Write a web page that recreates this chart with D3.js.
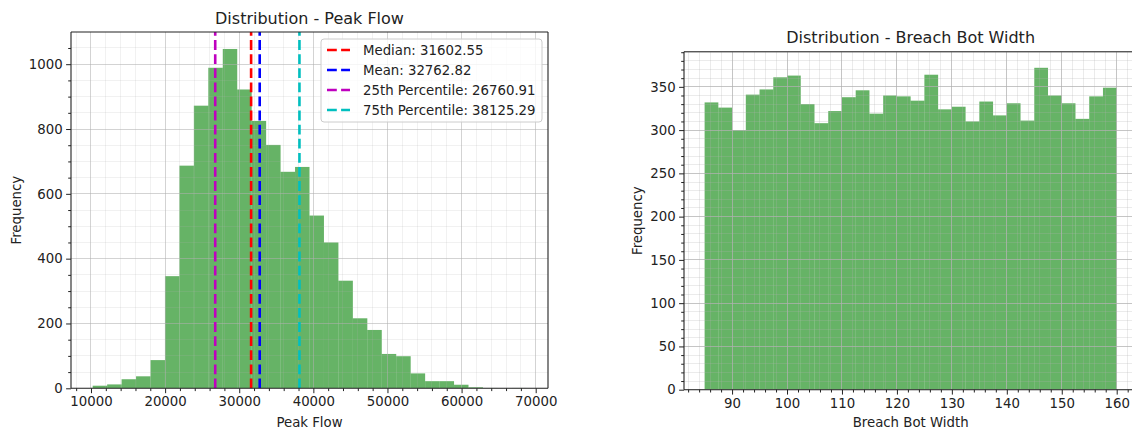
<!DOCTYPE html>
<html>
<head>
<meta charset="utf-8">
<script src="https://cdn.jsdelivr.net/npm/d3@7"></script>
<style>
  html, body { margin: 0; padding: 0; background: #fff; }
  svg { display: block; font-family: "DejaVu Sans", sans-serif; }
</style>
</head>
<body>
<svg id="fig" width="1132" height="431"></svg>
<script>
// Peak Flow histogram: 30 equal bins between the sample minimum and maximum
const peakFlowRange = [10228, 68734];
const peakFlowCounts = [8, 12, 28, 37, 87, 346, 687, 872, 989, 1047,
                        922, 825, 751, 668, 683, 533, 450, 332, 216, 180,
                        106, 99, 46, 22, 22, 11, 3, 1, 0, 1];
const peakFlowXTicks = [10000, 20000, 30000, 40000, 50000, 60000, 70000];
const peakFlowYTicks = [0, 200, 400, 600, 800, 1000];

// Summary statistics drawn as reference lines
const statNames = ["Median", "Mean", "25th Percentile", "75th Percentile"];
const statValues = [31602.55, 32762.82, 26760.91, 38125.29];
const statColors = ["#ff0000", "#0000ff", "#bf00bf", "#00bfbf"];

// Breach Bot Width histogram: 30 equal bins
const breachRange = [85, 160];
const breachCounts = [332, 326, 300, 341, 347, 361, 363, 330, 308, 322,
                      338, 346, 319, 340, 339, 334, 364, 324, 327, 310,
                      333, 317, 331, 311, 372, 340, 331, 313, 339, 349];
const breachXTicks = [90, 100, 110, 120, 130, 140, 150, 160];
const breachYTicks = [0, 50, 100, 150, 200, 250, 300, 350];

const svg = d3.select("#fig");
const FONT = 13.3;
const BAR = "#008000";

function bins(range, counts) {
  const w = (range[1] - range[0]) / counts.length;
  return counts.map((c, i) => ({ x0: range[0] + i * w, x1: range[0] + (i + 1) * w, n: c }));
}

function ticksBetween(lo, hi, step) {
  const out = [];
  for (let v = Math.ceil(lo / step) * step; v <= hi + 1e-9; v += step) out.push(+v.toFixed(6));
  return out;
}

function drawPanel(opt) {
  const g = svg.append("g");
  const { box, range, counts } = opt;
  const pad = 0.05 * (range[1] - range[0]);
  const x = d3.scaleLinear().domain([range[0] - pad, range[1] + pad]).range([box.x0, box.x1]);
  const y = d3.scaleLinear().domain([0, d3.max(counts) * 1.05]).range([box.y1, box.y0]);
  const [dx0, dx1] = x.domain();
  const [dy0, dy1] = y.domain();

  const clipId = "clip" + opt.id;
  svg.append("clipPath").attr("id", clipId).append("rect")
    .attr("x", box.x0).attr("y", box.y0)
    .attr("width", box.x1 - box.x0).attr("height", box.y1 - box.y0);

  const plot = g.append("g").attr("clip-path", `url(#${clipId})`);

  // bars
  plot.selectAll("rect.bar").data(bins(range, counts)).join("rect")
    .attr("class", "bar")
    .attr("x", d => x(d.x0))
    .attr("width", d => x(d.x1) - x(d.x0))
    .attr("y", d => y(d.n))
    .attr("height", d => y(0) - y(d.n))
    .attr("fill", BAR).attr("fill-opacity", 0.6);

  // grid: minor then major
  const xMinor = ticksBetween(dx0, dx1, opt.xMinor);
  const yMinor = ticksBetween(dy0, dy1, opt.yMinor);
  const xMajor = opt.xTicks.filter(v => v >= dx0 && v <= dx1);
  const yMajor = opt.yTicks;
  const grid = plot.append("g").attr("stroke", "#b0b0b0").attr("stroke-width", 1).attr("shape-rendering", "crispEdges");
  grid.selectAll("line.vmin").data(xMinor).join("line")
    .attr("x1", d => x(d)).attr("x2", d => x(d)).attr("y1", box.y0).attr("y2", box.y1)
    .attr("stroke-opacity", opt.minorAlpha);
  grid.selectAll("line.hmin").data(yMinor).join("line")
    .attr("y1", d => y(d)).attr("y2", d => y(d)).attr("x1", box.x0).attr("x2", box.x1)
    .attr("stroke-opacity", opt.minorAlpha);
  grid.selectAll("line.vmaj").data(xMajor).join("line")
    .attr("x1", d => x(d)).attr("x2", d => x(d)).attr("y1", box.y0).attr("y2", box.y1)
    .attr("stroke-opacity", opt.majorAlpha);
  grid.selectAll("line.hmaj").data(yMajor).join("line")
    .attr("y1", d => y(d)).attr("y2", d => y(d)).attr("x1", box.x0).attr("x2", box.x1)
    .attr("stroke-opacity", opt.majorAlpha);

  // statistic lines
  if (opt.stats) {
    plot.selectAll("line.stat").data(opt.stats).join("line")
      .attr("x1", d => x(d.v)).attr("x2", d => x(d.v))
      .attr("y1", box.y1).attr("y2", box.y0)
      .attr("stroke", d => d.c).attr("stroke-width", 2.6)
      .attr("stroke-dasharray", "9.8,4.3");
  }

  // axes via d3
  const xAxis = d3.axisBottom(x).tickValues(opt.xTicks).tickFormat(d3.format("d"))
    .tickSize(4.9).tickPadding(3.5);
  const xAxisMinor = d3.axisBottom(x).tickValues(xMinor.filter(v => !opt.xTicks.includes(v)))
    .tickSize(2.8).tickFormat("");
  const yAxis = d3.axisLeft(y).tickValues(opt.yTicks).tickFormat(d3.format("d"))
    .tickSize(4.9).tickPadding(3.5);
  const yAxisMinor = d3.axisLeft(y).tickValues(yMinor.filter(v => !opt.yTicks.includes(v)))
    .tickSize(2.8).tickFormat("");

  function style(sel) {
    sel.select(".domain").remove();
    sel.selectAll("line").attr("stroke", "#222").attr("stroke-width", 1);
    sel.selectAll("text").attr("fill", "#222").style("font-size", FONT + "px")
      .style("font-family", "DejaVu Sans");
  }
  g.append("g").attr("transform", `translate(0,${box.y1})`).call(xAxisMinor).call(style);
  g.append("g").attr("transform", `translate(0,${box.y1})`).call(xAxis).call(style);
  g.append("g").attr("transform", `translate(${box.x0},0)`).call(yAxisMinor).call(style);
  g.append("g").attr("transform", `translate(${box.x0},0)`).call(yAxis).call(style);

  // spines
  const sp = g.append("g").attr("stroke", "#222").attr("stroke-width", 1.1).attr("fill", "none");
  sp.append("line").attr("x1", box.x0).attr("x2", box.x0).attr("y1", box.y0).attr("y2", box.y1);
  sp.append("line").attr("x1", box.x1).attr("x2", box.x1).attr("y1", box.y0).attr("y2", box.y1);
  sp.append("line").attr("x1", box.x0).attr("x2", box.x1).attr("y1", box.y0).attr("y2", box.y0);
  sp.append("line").attr("x1", box.x0).attr("x2", box.x1).attr("y1", box.y1).attr("y2", box.y1);

  // titles and labels
  const cx = (box.x0 + box.x1) / 2;
  g.append("text").attr("x", opt.titleX ?? cx).attr("y", box.y0 - 8.3)
    .attr("text-anchor", "middle").attr("fill", "#222").style("font-size", "16px")
    .text(opt.title);
  g.append("text").attr("x", opt.titleX ?? cx).attr("y", 427)
    .attr("text-anchor", "middle").attr("fill", "#222").style("font-size", FONT + "px")
    .text(opt.xLabel);
  const cy = (box.y0 + box.y1) / 2;
  g.append("text").attr("transform", `translate(${opt.yLabelX},${cy}) rotate(-90)`)
    .attr("text-anchor", "middle").attr("fill", "#222").style("font-size", FONT + "px")
    .text("Frequency");

  return { x, y };
}

// Left panel: Peak Flow
drawPanel({
  id: "L",
  box: { x0: 71, x1: 548, y0: 32, y1: 388.3 },
  range: peakFlowRange, counts: peakFlowCounts,
  xTicks: peakFlowXTicks, yTicks: peakFlowYTicks,
  xMinor: 2000, yMinor: 50,
  majorAlpha: 0.45, minorAlpha: 0.18,
  stats: statValues.map((v, i) => ({ v, c: statColors[i] })),
  title: "Distribution - Peak Flow", xLabel: "Peak Flow", yLabelX: 21
});

// Legend for the statistic lines
const leg = svg.append("g").attr("transform", "translate(321,39)");
leg.append("rect").attr("width", 221).attr("height", 83).attr("rx", 3)
  .attr("fill", "#fff").attr("fill-opacity", 0.8).attr("stroke", "#cccccc").attr("stroke-width", 1);
statNames.forEach((name, i) => {
  const yy = 11 + i * 20;
  leg.append("line").attr("x1", 6).attr("x2", 29).attr("y1", yy).attr("y2", yy)
    .attr("stroke", statColors[i]).attr("stroke-width", 2.6).attr("stroke-dasharray", "9.8,4.3");
  leg.append("text").attr("x", 42).attr("y", yy + 4.7).attr("fill", "#222")
    .style("font-size", FONT + "px")
    .text(`${name}: ${statValues[i].toFixed(2)}`);
});

// Right panel: Breach Bot Width
drawPanel({
  id: "R",
  box: { x0: 684, x1: 1137.3, y0: 51.7, y1: 389.7 },
  range: breachRange, counts: breachCounts,
  xTicks: breachXTicks, yTicks: breachYTicks,
  xMinor: 2, yMinor: 10,
  majorAlpha: 0.65, minorAlpha: 0.25,
  title: "Distribution - Breach Bot Width", xLabel: "Breach Bot Width", yLabelX: 642
});
</script>
</body>
</html>
